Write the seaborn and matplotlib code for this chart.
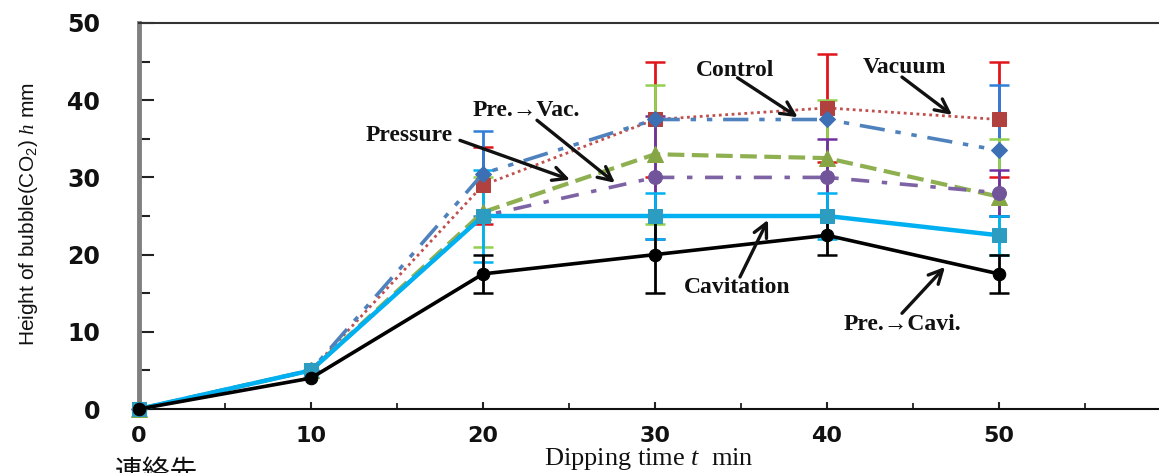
import numpy as np
import pandas as pd
import matplotlib
matplotlib.use("Agg")
import matplotlib.pyplot as plt
import seaborn as sns
from matplotlib.ticker import MultipleLocator, FixedLocator

# ---------------- data ----------------
times = [0, 10, 20, 30, 40, 50]
vacuum = [0, 5, 29, 37.5, 39, 37.5]
control = [0, 5, 30.5, 37.5, 37.5, 33.5]
pressure = [0, 5, 25.5, 33, 32.5, 27.5]
pre_vac = [0, 5, 25, 30, 30, 28]
cavitation = [0, 5, 25, 25, 25, 22.5]
pre_cavi = [0, 4, 17.5, 20, 22.5, 17.5]

vacuum_err = [0, 0, 5, 7.5, 7, 7.5]
control_err = [0, 0, 5.5, 0, 0, 8.5]
pressure_err = [0, 0, 4.5, 9, 7.5, 7.5]
pre_vac_err = [0, 0, 0, 8, 5, 3]
cavitation_err = [0, 0, 6, 3, 3, 2.5]
pre_cavi_err = [0, 0, 2.5, 5, 2.5, 2.5]

series_names = ["Vacuum", "Control", "Pressure", "Pre.→Vac.", "Cavitation", "Pre.→Cavi."]
series_values = [vacuum, control, pressure, pre_vac, cavitation, pre_cavi]
series_errors = [vacuum_err, control_err, pressure_err, pre_vac_err, cavitation_err, pre_cavi_err]

x_label = "Dipping time $t$  min"
y_label = "Height of bubble(CO$_\\mathsf{2}$) $h$ mm"
footer = "連絡先"

# ---------------- style ----------------
styles = {
    "Vacuum":     dict(color="#c0504d", mcolor="#b0413e", ecolor="#e0151b", marker="s", ls=(0, (1.0, 1.3)), lw=2.0, ms=10),
    "Control":    dict(color="#4f81bd", mcolor="#3d6fb5", ecolor="#2f7ed8", marker="D", ls=(0, (7, 3, 1.5, 3, 1.5, 3)), lw=2.6, ms=8),
    "Pressure":   dict(color="#8fb050", mcolor="#86a646", ecolor="#92d050", marker="^", ls=(0, (4, 1.8)), lw=3.0, ms=11),
    "Pre.→Vac.":  dict(color="#7e63a4", mcolor="#72549a", ecolor="#7030a0", marker="o", ls=(0, (5, 3.5, 1.5, 3.5)), lw=2.6, ms=10),
    "Cavitation": dict(color="#00b0f0", mcolor="#2c9cc0", ecolor="#00b0f0", marker="s", ls="-", lw=3.2, ms=10),
    "Pre.→Cavi.": dict(color="#000000", mcolor="#000000", ecolor="#000000", marker="o", ls="-", lw=2.6, ms=9),
}

sns.set_theme(style="white")
plt.rcParams["mathtext.fontset"] = "custom"
plt.rcParams["mathtext.rm"] = "Liberation Serif"
plt.rcParams["mathtext.it"] = "Liberation Serif:italic"
plt.rcParams["mathtext.sf"] = "Liberation Sans"

fig = plt.figure(figsize=(11.59, 4.73), dpi=100)
ax = fig.add_axes([139 / 1159, 1 - 409 / 473, 1 - 139 / 1159, (409 - 23) / 473])

# error bars (drawn first, beneath lines)
for name, vals, errs in zip(series_names, series_values, series_errors):
    st = styles[name]
    xs = [t for t, e in zip(times, errs) if e > 0]
    ys = [v for v, e in zip(vals, errs) if e > 0]
    es = [e for e in errs if e > 0]
    ax.errorbar(xs, ys, yerr=es, fmt="none", ecolor=st["ecolor"], elinewidth=2.0,
                capsize=7, capthick=1.8, zorder=2)

# lines + markers via seaborn
for name, vals in zip(series_names, series_values):
    st = styles[name]
    df = pd.DataFrame({"t": times, "h": vals})
    sns.lineplot(data=df, x="t", y="h", ax=ax, color=st["color"], linestyle=st["ls"],
                 linewidth=st["lw"], marker=st["marker"], markersize=st["ms"],
                 markerfacecolor=st["mcolor"], markeredgecolor=st["mcolor"],
                 errorbar=None, legend=False, zorder=3, clip_on=False)

# axes limits / ticks
ax.set_xlim(0, (1159 - 139) / 17.2)
ax.set_ylim(0, 50)
ax.xaxis.set_major_locator(FixedLocator([0, 10, 20, 30, 40, 50]))
ax.xaxis.set_minor_locator(FixedLocator([5, 15, 25, 35, 45, 55]))
ax.yaxis.set_major_locator(MultipleLocator(10))
ax.yaxis.set_minor_locator(MultipleLocator(5))

ax.tick_params(axis="y", which="major", direction="in", length=11, width=1.5, color="#222222",
               pad=28, labelsize=17, left=True)
ax.tick_params(axis="y", which="minor", direction="in", length=8, width=1.5, color="#222222", left=True)
ax.tick_params(axis="x", which="major", direction="in", length=5, width=1.5, color="#222222",
               pad=12, labelsize=16, bottom=True)
ax.tick_params(axis="x", which="minor", direction="in", length=4, width=1.3, color="#222222", bottom=True)
for lab in ax.get_xticklabels() + ax.get_yticklabels():
    lab.set_fontweight("bold")
    lab.set_color("#111111")

ax.spines["right"].set_visible(False)
ax.spines["left"].set_color("#808080")
ax.spines["left"].set_linewidth(3.5)
ax.spines["bottom"].set_color("#111111")
ax.spines["bottom"].set_linewidth(1.5)
ax.spines["top"].set_color("#333333")
ax.spines["top"].set_linewidth(1.5)
ax.set_xlabel("")
ax.set_ylabel("")

# axis titles
ax.text((29 - 139) / 1020, 0.505, y_label, transform=ax.transAxes, rotation=90,
        ha="center", va="center", fontsize=15, family=["Liberation Sans"],
        color="#111111")
ax.text(0.5, (409 - 459) / 386, x_label, transform=ax.transAxes, ha="center", va="center",
        fontsize=19, family=["Liberation Serif"], color="#111111")

# annotations (text + arrows)
ann_font = dict(fontsize=17, fontweight="bold", family=["Liberation Serif", "DejaVu Serif"], color="#111111")
labels = [
    ("Pressure",   (15.7, 35.4), (18.66, 34.8), (25.06, 29.7)),
    ("Pre.→Vac.",  (22.5, 38.7), (23.14, 37.4), (27.67, 29.3)),
    ("Control",    (34.65, 43.9), (34.8, 42.9), (38.3, 37.8)),
    ("Vacuum",     (44.5, 44.3), (44.36, 43.0), (47.27, 38.1)),
    ("Cavitation", (34.77, 15.8), (34.94, 17.1), (36.57, 24.5)),
    ("Pre.→Cavi.", (44.36, 10.9), (44.36, 12.4), (46.86, 18.4)),
]
for txt, tpos, a0, a1 in labels:
    ax.text(tpos[0], tpos[1], txt, ha="center", va="center", zorder=6, **ann_font)
    ax.annotate("", xy=a1, xytext=a0,
                arrowprops=dict(arrowstyle="->,head_length=0.7,head_width=0.35", lw=2.4,
                                color="#111111", shrinkA=0, shrinkB=0, mutation_scale=14),
                zorder=5)

fig.text(115 / 1159, 1 - 457 / 473, footer, ha="left", va="top", fontsize=20,
         family=["Noto Sans CJK JP", "DejaVu Sans"], color="#111111")

fig.savefig("out.png", dpi=100)
